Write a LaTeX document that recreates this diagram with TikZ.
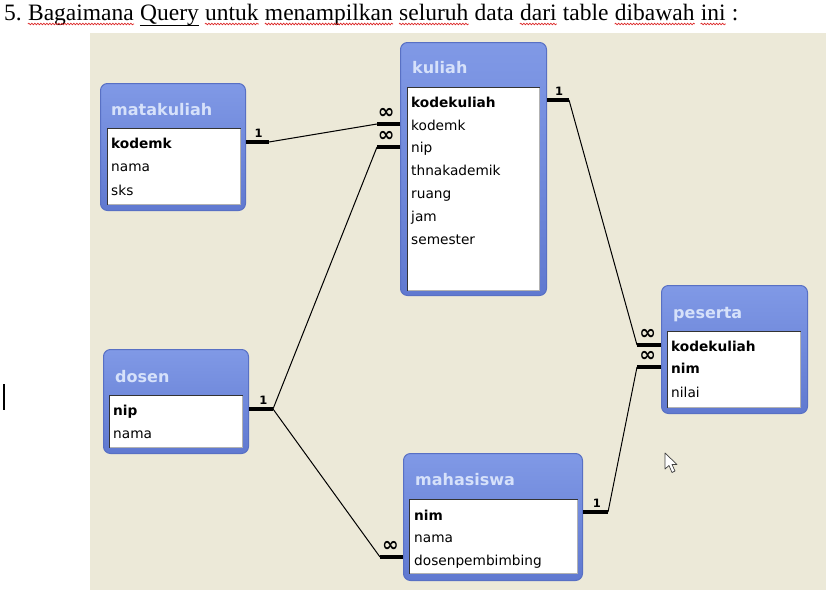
\documentclass[tikz,border=0pt]{standalone}
\usepackage{fontspec}
\setmainfont{Liberation Serif}
\newfontfamily\uifont{DejaVu Sans}
\usetikzlibrary{calc,decorations.pathmorphing}
\definecolor{panel}{RGB}{236,233,216}
\definecolor{tbluetop}{RGB}{128,153,230}
\definecolor{tbluebot}{RGB}{96,121,208}
\definecolor{tborder}{RGB}{88,112,196}
\definecolor{ttext}{RGB}{214,225,250}
\definecolor{wavyred}{RGB}{220,40,40}
\begin{document}
\begin{tikzpicture}[x=1pt,y=-1pt,
 tbl/.style={rectangle, rounded corners=7pt, draw=tborder, line width=1pt, top color=tbluetop, bottom color=tbluebot, anchor=north west, inner sep=0pt},
 lst/.style={rectangle, draw=gray!60, fill=white, anchor=north west, inner sep=0pt, line width=0.8pt},
 inset/.style={draw=gray!40!black, line width=0.8pt},
 ttl/.style={anchor=base west, inner sep=0pt, text=ttext, font=\uifont\fontsize{16}{16}\bfseries\selectfont},
 fld/.style={anchor=west, inner sep=0pt, text height=10pt, text depth=3pt, font=\uifont\fontsize{13.7}{14}\selectfont, text=black},
 key/.style={fld, font=\uifont\fontsize{13.7}{14}\bfseries\selectfont},
 stub/.style={line width=4pt},
 rel/.style={line width=1pt},
 one/.style={font=\uifont\fontsize{11.5}{11}\bfseries\selectfont, inner sep=0pt, anchor=south},
 many/.style={font=\uifont\fontsize{20}{20}\bfseries\selectfont, inner sep=0pt, anchor=base},
 wd/.style={anchor=base west, inner sep=0pt, font=\fontsize{23.5}{26}\selectfont},
 wavyul/.style={draw=wavyred, line width=0.7pt, decorate, decoration={snake, amplitude=0.8pt, segment length=3pt}},
 solidul/.style={draw=black, line width=1pt},
]
\useasboundingbox (0,0) rectangle (832,597);
\fill[panel] (90,33) rectangle (826,590);

% ---------- title line ----------
\node[wd] (w1) at (4,20) {5.};
\node[wd] (w2) at ([xshift=5.9pt]w1.base east) {Bagaimana};
\node[wd] (w3) at ([xshift=5.9pt]w2.base east) {Query};
\node[wd] (w4) at ([xshift=5.9pt]w3.base east) {untuk};
\node[wd] (w5) at ([xshift=5.9pt]w4.base east) {menampilkan};
\node[wd] (w6) at ([xshift=5.9pt]w5.base east) {seluruh};
\node[wd] (w7) at ([xshift=5.9pt]w6.base east) {data};
\node[wd] (w8) at ([xshift=5.9pt]w7.base east) {dari};
\node[wd] (w9) at ([xshift=5.9pt]w8.base east) {table};
\node[wd] (w10) at ([xshift=5.9pt]w9.base east) {dibawah};
\node[wd] (w11) at ([xshift=5.9pt]w10.base east) {ini};
\node[wd] (w12) at ([xshift=5.9pt]w11.base east) {:};
\foreach \w in {w2,w4,w5,w6,w8,w10,w11}
  \path[wavyul] ([yshift=-4pt]\w.base west) -- ([yshift=-4pt]\w.base east);
\path[solidul] ([yshift=-5.5pt]w3.base west) -- ([yshift=-5.5pt]w3.base east);

% text cursor
\draw[line width=1.2pt] (4,384) -- (4,410);

% ---------- matakuliah ----------
\node[tbl, minimum width=145pt, minimum height=127pt] (mk) at (100,83) {};
\node[lst, minimum width=133pt, minimum height=76pt] (mkl) at (107,128) {};
\draw[inset] (mkl.south west) |- (mkl.north east);
\node[ttl] (mkt) at (111,115) {matakuliah};
\node[key] (mk-kodemk) at (111,145) {kodemk};
\node[fld] (mk-nama) at (111,168) {nama};
\node[fld] (mk-sks) at (111,192) {sks};

% ---------- kuliah ----------
\node[tbl, minimum width=146pt, minimum height=253pt] (ku) at (400,42) {};
\node[lst, minimum width=132pt, minimum height=203pt] (kul) at (407,87) {};
\draw[inset] (kul.south west) |- (kul.north east);
\node[ttl] (kut) at (412,73) {kuliah};
\node[key] (ku-kodekuliah) at (411,104) {kodekuliah};
\node[fld] (ku-kodemk) at (411,127) {kodemk};
\node[fld] (ku-nip) at (411,149) {nip};
\node[fld] (ku-thn) at (411,172) {thnakademik};
\node[fld] (ku-ruang) at (411,195) {ruang};
\node[fld] (ku-jam) at (411,218) {jam};
\node[fld] (ku-semester) at (411,241) {semester};

% ---------- peserta ----------
\node[tbl, minimum width=146pt, minimum height=128pt] (ps) at (661,285) {};
\node[lst, minimum width=133pt, minimum height=76pt] (psl) at (667,331) {};
\draw[inset] (psl.south west) |- (psl.north east);
\node[ttl] (pst) at (673,318) {peserta};
\node[key] (ps-kodekuliah) at (671,348) {kodekuliah};
\node[key] (ps-nim) at (671,370) {nim};
\node[fld] (ps-nilai) at (671,394) {nilai};

% ---------- dosen ----------
\node[tbl, minimum width=145pt, minimum height=104pt] (ds) at (103,349) {};
\node[lst, minimum width=133pt, minimum height=52pt] (dsl) at (109,395) {};
\draw[inset] (dsl.south west) |- (dsl.north east);
\node[ttl] (dst) at (115,382) {dosen};
\node[key] (ds-nip) at (113,412) {nip};
\node[fld] (ds-nama) at (113,435) {nama};

% ---------- mahasiswa ----------
\node[tbl, minimum width=179pt, minimum height=127pt] (mh) at (403,453) {};
\node[lst, minimum width=168pt, minimum height=74pt] (mhl) at (409,499) {};
\draw[inset] (mhl.south west) |- (mhl.north east);
\node[ttl] (mht) at (415,485) {mahasiswa};
\node[key] (mh-nim) at (414,517) {nim};
\node[fld] (mh-nama) at (414,539) {nama};
\node[fld] (mh-dosen) at (414,562) {dosenpembimbing};

% ---------- relationship end points ----------
\path (mk.east |- mk-kodemk) ++(0,-3) coordinate (mkA) ++(23,0) coordinate (mkB);
\path (ku.west |- ku-kodemk) ++(0,-3) coordinate (kuA) ++(-23,0) coordinate (kuB);
\path (ku.west |- ku-nip) ++(0,-2) coordinate (kuC) ++(-23,0) coordinate (kuD);
\path (ku.east |- ku-kodekuliah) ++(0,-4) coordinate (kuE) ++(22,0) coordinate (kuF);
\path (ds.east |- ds-nip) ++(0,-3) coordinate (dsA) ++(24,0) coordinate (dsB);
\path (mh.west |- mh-dosen) ++(0,-5) coordinate (mhA) ++(-23,0) coordinate (mhB);
\path (mh.east |- mh-nim) ++(0,-5) coordinate (mhC) ++(25,0) coordinate (mhD);
\path (ps.west |- ps-kodekuliah) ++(0,-3) coordinate (psA) ++(-24,0) coordinate (psB);
\path (ps.west |- ps-nim) ++(0,-3) coordinate (psC) ++(-24,0) coordinate (psD);

% stubs
\foreach \a/\b in {mkA/mkB,kuA/kuB,kuC/kuD,kuE/kuF,dsA/dsB,mhA/mhB,mhC/mhD,psA/psB,psC/psD}
  \draw[stub] (\a) -- (\b);

% lines
\draw[rel] (mkB) -- (kuB);
\draw[rel] (dsB) -- (kuD);
\draw[rel] (dsB) -- (mhB);
\draw[rel] (kuF) -- (psB);
\draw[rel] (mhD) -- (psD);

% cardinality labels
\node[one] at ($(mkA)!0.55!(mkB)+(0,-4)$) {1};
\node[one] at ($(dsA)!0.6!(dsB)+(0,-4)$) {1};
\node[one] at ($(kuE)!0.55!(kuF)+(0,-4)$) {1};
\node[one] at ($(mhC)!0.55!(mhD)+(0,-4)$) {1};
\node[many] at ($(kuB)!0.4!(kuA)+(0,-6)$) {∞};
\node[many] at ($(kuD)!0.4!(kuC)+(0,-6)$) {∞};
\node[many] at ($(mhB)!0.45!(mhA)+(0,-6)$) {∞};
\node[many] at ($(psB)!0.45!(psA)+(0,-6)$) {∞};
\node[many] at ($(psD)!0.45!(psC)+(0,-6)$) {∞};

% mouse pointer
\draw[fill=white, draw=black!75, line width=0.7pt, line join=round]
  (665,453) -- (665,469) -- (669,465.5) -- (672,472.5) -- (675,471) -- (672,464.5) -- (677,464.5) -- cycle;
\end{tikzpicture}
\end{document}
